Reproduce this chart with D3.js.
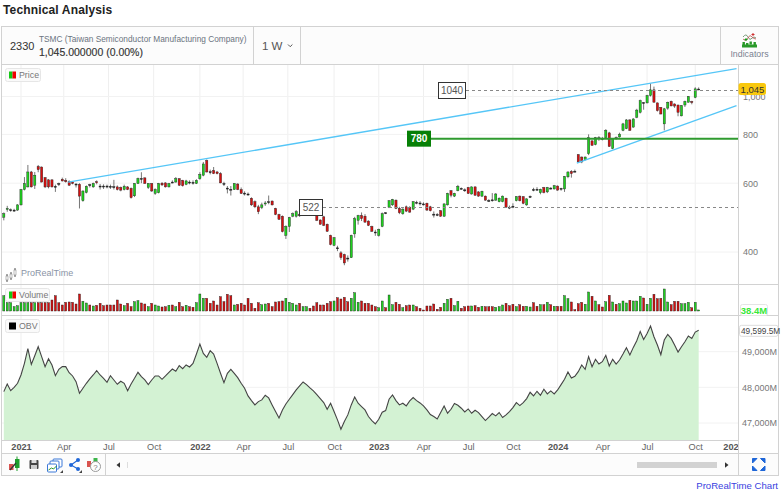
<!DOCTYPE html>
<html><head><meta charset="utf-8">
<script src="https://cdn.jsdelivr.net/npm/d3@7"></script>
<style>html,body{margin:0;padding:0;background:#fff}svg{display:block}text{font-family:"Liberation Sans",Arial,sans-serif}</style>
</head><body><div id="c"></div>
<script>
const opens=[491,514,512,512,512,528,578,587,641,593,662,660,620,612,612,589,599,614,610,606,604,597,596,541,568,595,587,605,590,590,
590,589,588,587,585,578,587,582,557,599,617,619,585,599,565,567,600,601,587,604,604,616,610,596,604,603,599,616,629,686,
642,647,641,635,599,583,579,578,597,578,566,563,549,538,522,
520,531,538,540,517,499,494,441,465,494,494,500,505,510,515,505,496,483,492,471,441,416,410,398,394,386,387,445,482,496,
494,480,465,450,441,465,504,521,528,543,517,501,522,520,515,536,534,531,533,522,500,499,510,494,528,574,556,574,582,577,
585,563,587,570,556,556,542,544,543,538,538,549,521,524,541,556,
554,528,553,578,579,567,585,570,583,580,590,582,580,623,643,644,710,700,690,714,770,753,784,781,785,807,736,784,788,819,
827,871,835,885,911,965,963,1006,1040,963,938,851,934,972,957,951,892,951,967,971,995,1045];
const closes=[501,517,513,512,528,578,599,641,587,629,650,604,587,587,587,587,598,608,605,593,599,596,556,573,589,594,599,602,588,589,
589,587,586,578,576,589,578,551,599,617,616,599,599,573,578,599,594,587,599,603,616,593,591,608,603,601,610,632,672,641,
641,635,635,601,598,581,578,599,578,565,564,562,528,522,507,
528,534,537,528,499,485,451,465,490,501,507,495,510,515,505,498,482,471,468,452,418,435,408,387,375,384,441,487,496,487,
477,468,452,448,457,501,503,541,545,517,504,515,509,506,538,535,532,530,512,510,499,498,494,531,565,559,565,589,581,575,
565,587,559,556,572,543,541,543,563,549,556,521,520,523,554,541,
533,547,555,577,578,579,568,585,582,591,576,580,624,641,635,643,680,680,700,784,750,784,783,780,819,745,780,782,801,851,
871,819,876,923,976,963,1006,1040,967,920,902,930,967,946,945,911,948,972,1000,965,1046,1045];
const highs=[505,525,517,516,530,580,622,668,645,641,668,662,622,614,613,595,602,620,618,610,606,600,600,575,592,598,602,610,597,596,
595,595,612,592,588,595,590,585,600,620,640,621,600,600,582,601,604,603,601,610,622,618,612,612,610,610,614,640,680,690,
650,660,645,640,605,590,590,600,600,585,572,568,552,542,528,
535,540,558,542,519,501,496,468,492,505,512,505,515,520,518,508,500,485,495,473,443,437,415,402,396,392,443,492,498,505,
500,482,467,456,459,505,506,543,547,545,522,518,526,524,540,541,540,536,535,525,508,503,512,533,567,576,567,594,585,582,
587,589,589,572,574,558,546,566,566,552,558,551,526,533,556,558,
556,549,558,584,586,581,587,587,586,594,592,584,626,643,648,650,712,702,702,800,772,788,792,788,825,812,782,790,808,856,
875,875,880,930,982,968,1010,1080,1060,965,940,935,970,976,960,953,950,976,1003,975,1056,1055];
const lows=[482,507,507,507,510,526,575,585,585,580,640,603,583,582,585,570,590,606,602,590,596,585,517,538,565,585,584,596,578,580,
582,580,578,575,572,575,576,548,553,597,600,598,580,570,560,565,590,585,585,600,602,590,588,593,596,595,597,612,625,639,
632,633,632,600,590,565,558,577,576,563,558,557,525,518,500,
515,525,530,526,497,483,449,432,450,491,490,492,500,505,503,496,480,470,466,450,416,414,402,382,370,378,386,435,470,480,
475,466,450,440,438,463,500,518,525,515,500,498,506,504,512,530,526,526,510,508,490,494,492,492,526,552,553,572,578,570,
563,561,557,554,553,541,537,538,541,536,536,519,515,518,539,539,
530,525,550,572,574,562,565,566,578,578,574,574,570,618,620,640,678,675,686,708,748,750,770,772,783,743,733,775,785,815,
825,817,832,880,905,925,960,1000,965,915,900,819,925,944,935,890,890,940,965,955,990,1040];
const volumes=[224,133,133,81,94,133,133,133,133,133,133,133,133,133,168,224,133,103,138,142,138,116,246,151,129,103,90,99,125,94,
103,103,103,168,116,94,125,81,146,159,129,116,81,125,103,90,77,81,99,103,81,138,81,99,81,73,133,246,190,190,
125,155,103,211,146,242,224,103,112,125,103,190,125,60,133,
107,116,125,81,142,146,155,190,138,125,103,125,81,81,60,90,133,103,103,125,146,155,198,181,203,146,190,263,138,155,125,
125,103,81,68,155,68,233,107,138,112,68,94,103,103,81,60,38,90,90,116,47,73,125,177,190,94,151,60,81,90,90,
94,73,86,81,81,81,73,81,103,125,94,112,81,107,
86,86,77,133,86,107,107,138,107,86,86,86,224,185,142,42,120,138,112,272,216,155,107,77,146,229,142,112,120,155,
129,164,155,155,216,194,112,190,242,185,190,311,142,107,151,151,120,120,138,68,138,38.4];
const obv=[47880,48095,47908,48002,48114,48347,48673,49084,48645,48888,49140,48860,48580,48804,48627,48328,48505,48580,48580,48412,
48319,48160,47834,47974,48114,48235,48347,48468,48347,48254,48142,48328,48207,48086,48170,48114,47908,48095,48254,48422,
48300,48207,48076,48207,48319,48319,48226,48319,48422,48515,48450,48608,48524,48627,48571,48673,48935,49215,48953,48841,
49028,48935,48673,48394,48132,48394,48505,48394,48272,48114,47974,47759,47628,47507,47600,47647,47778,47703,47507,47321,
47143,47367,47535,47666,47796,47927,48039,48151,48076,47983,47899,47796,47684,47573,47386,47554,47321,47087,46826,47041,
47227,47507,47731,47554,47461,47367,47181,47069,46975,47106,47302,47349,47666,47787,
47628,47507,47554,47479,47619,47712,47628,47563,47479,47367,47237,47181,47115,47293,47479,47274,47386,47545,47498,47414,
47311,47395,47274,47358,47293,47181,47069,47162,47265,47199,47293,47153,47227,47321,47433,47573,47489,47573,47684,47862,
47759,47890,47778,47946,47815,47899,47815,47927,48076,48226,48431,48263,48310,48440,48627,48505,48860,48580,48785,48655,48720,
48897,48599,48785,48655,48767,48935,49112,48907,49121,49308,49569,49345,49513,49718,49420,49187,48916,49327,49485,49373,
49187,48991,49140,49280,49439,49373,49550,49599.5];
const firstWeek="2020-11-30";
const xTickDates=["2021-01-04","2021-04-01","2021-07-01","2021-10-01","2022-01-03","2022-04-01","2022-07-01","2022-10-03","2023-01-02","2023-04-03","2023-07-03","2023-10-02","2024-01-01","2024-04-01","2024-07-01","2024-10-07","2024-12-23"];
const xTickLabels=["2021","Apr","Jul","Oct","2022","Apr","Jul","Oct","2023","Apr","Jul","Oct","2024","Apr","Jul","Oct","2025"];
const priceTicks=[400,600,800,1000];
const obvTicks=[47000,48000,49000];
const upperTrendDates=["2021-04-10","2024-12-30"], upperTrendPrices=[604,1179];
const lowerTrendDates=["2024-02-09","2024-12-30"], lowerTrendPrices=[675,948];
const levelPrices=[1040,780,522];
const lastPrice=1045;

const W=784,H=492;
const parse=d3.utcParse("%Y-%m-%d");
const start=parse(firstWeek);
const dates=opens.map((_,i)=>d3.utcDay.offset(start,7*i));
const L=2,R=738,PT=65,PB=284,VB=315,OB=440,AB=453,TB=475;
const x=d3.scaleUtc().domain([parse("2021-01-04"),parse("2025-01-06")]).range([21,21+209*3.44]);
const yP=d3.scaleLog().domain([400,1000]).range([252,96.5]);
const yV=d3.scaleLinear().domain([25,320]).range([311,288.3]);
const yO=d3.scaleLinear().domain([47000,49000]).range([423,351.7]);
const green="#1fd01f",red="#d61010";
const svg=d3.select("#c").append("svg").attr("width",W).attr("height",H);
const defs=svg.append("defs");
defs.append("clipPath").attr("id","pl").append("rect").attr("x",L).attr("y",PT).attr("width",R-L).attr("height",TB-PT);
defs.append("clipPath").attr("id","ax").append("rect").attr("x",L).attr("y",OB).attr("width",R-L).attr("height",AB-OB);

svg.append("text").attr("x",3).attr("y",14).attr("font-size",12).attr("font-weight",700).attr("fill","#222").attr("letter-spacing",".15").text("Technical Analysis");
svg.append("rect").attr("x",1.5).attr("y",26.5).attr("width",777).attr("height",38).attr("fill","#fcfcfc");
svg.append("rect").attr("x",1.5).attr("y",453.5).attr("width",777).attr("height",22).attr("fill","#fcfcfc");
const gridG=svg.append("g");
xTickDates.slice(0,-1).forEach(d=>gridG.append("line").attr("x1",x(parse(d))).attr("x2",x(parse(d))).attr("y1",PT).attr("y2",OB).attr("stroke","#efefef"));
priceTicks.forEach(p=>gridG.append("line").attr("x1",L).attr("x2",R).attr("y1",yP(p)).attr("y2",yP(p)).attr("stroke","#f2f2f2"));
obvTicks.forEach(p=>gridG.append("line").attr("x1",L).attr("x2",R).attr("y1",yO(p)).attr("y2",yO(p)).attr("stroke","#f2f2f2"));

const plot=svg.append("g").attr("clip-path","url(#pl)");
const idx=d3.range(opens.length);
plot.append("g").selectAll("line").data(idx).join("line")
 .attr("x1",i=>x(dates[i])).attr("x2",i=>x(dates[i])).attr("y1",i=>yP(highs[i])).attr("y2",i=>yP(lows[i]))
 .attr("stroke","#666").attr("stroke-width",.9);
plot.append("g").selectAll("rect").data(idx).join("rect")
 .attr("x",i=>x(dates[i])-1.1).attr("width",2.2)
 .attr("y",i=>Math.min(yP(opens[i]),yP(closes[i])))
 .attr("height",i=>Math.max(1,Math.abs(yP(opens[i])-yP(closes[i]))))
 .attr("fill",i=>Math.abs(opens[i]-closes[i])<3?"#222":closes[i]>=opens[i]?green:red)
 .attr("stroke","#222").attr("stroke-width",.4);
const trend=(ds,ps)=>plot.append("line").attr("x1",x(parse(ds[0]))).attr("x2",x(parse(ds[1]))).attr("y1",yP(ps[0])).attr("y2",yP(ps[1])).attr("stroke","#55c6f7").attr("stroke-width",1.3);
trend(upperTrendDates,upperTrendPrices);
trend(lowerTrendDates,lowerTrendPrices);
[[levelPrices[0],438,466],[levelPrices[2],299,323]].forEach(([p,a,b])=>{
 const y=Math.round(yP(p))+.5;
 plot.append("line").attr("x1",b).attr("x2",R).attr("y1",y).attr("y2",y).attr("stroke","#888").attr("stroke-width",1.2).attr("stroke-dasharray","3,3");
 svg.append("rect").attr("x",a+.5).attr("y",y-8).attr("width",b-a-1).attr("height",16).attr("fill","#fff").attr("stroke","#333");
 svg.append("text").attr("x",(a+b)/2).attr("y",y+3.7).attr("text-anchor","middle").attr("font-size",10).attr("fill","#555").text(p);
});
{const y=yP(levelPrices[1]);
 plot.append("line").attr("x1",430).attr("x2",R).attr("y1",y).attr("y2",y).attr("stroke","#2f9a2f").attr("stroke-width",2);
 svg.append("rect").attr("x",407).attr("y",y-8).attr("width",24).attr("height",16).attr("fill","#078007");
 svg.append("text").attr("x",419).attr("y",y+3.8).attr("text-anchor","middle").attr("font-size",10).attr("font-weight",700).attr("fill","#fff").text(levelPrices[1]);}
plot.append("g").selectAll("rect").data(idx).join("rect")
 .attr("x",i=>x(dates[i])-1).attr("width",2)
 .attr("y",i=>yV(volumes[i])).attr("height",i=>yV(25)-yV(volumes[i]))
 .attr("fill",i=>closes[i]>=opens[i]?green:red).attr("stroke","#1c1c1c").attr("stroke-width",.4);
const ptsO=idx.map(i=>[x(dates[i]),yO(obv[i])]);
plot.append("path").attr("d",d3.area().x(d=>d[0]).y0(OB).y1(d=>d[1])(ptsO)).attr("fill","#d3f2d3");
plot.append("path").attr("d",d3.line().x(d=>d[0]).y(d=>d[1])(ptsO)).attr("fill","none").attr("stroke","#444").attr("stroke-width",1.1);

const yAxisP=d3.axisRight(yP).tickValues(priceTicks).tickFormat(d3.format(",")).tickSize(0).tickPadding(5);
const gP=svg.append("g").attr("transform",`translate(${R},0)`).call(yAxisP);
const yAxisO=d3.axisRight(yO).tickValues(obvTicks).tickFormat(d=>d3.format(",")(d)+"M").tickSize(0).tickPadding(4);
const gO=svg.append("g").attr("transform",`translate(${R},0)`).call(yAxisO);
[gP,gO].forEach(g=>{g.select(".domain").remove();g.selectAll("text").attr("font-size",9).attr("fill","#777").attr("font-family",'"Liberation Sans",Arial,sans-serif');});
const xAxis=d3.axisBottom(x).tickValues(xTickDates.map(parse)).tickFormat((d,i)=>xTickLabels[i]).tickSize(0).tickPadding(3);
const gX=svg.append("g").attr("clip-path","url(#ax)").append("g").attr("transform",`translate(0,${OB})`).call(xAxis);
gX.select(".domain").remove();
gX.selectAll("text").attr("font-size",9.2).attr("fill",(d,i)=>i%4==0?"#555":"#666").attr("font-weight",(d,i)=>i%4==0?700:400).attr("font-family",'"Liberation Sans",Arial,sans-serif');

const bc="#d2d2d2";
const fr=(x1,y1,x2,y2,c=bc)=>svg.append("line").attr("x1",x1).attr("y1",y1).attr("x2",x2).attr("y2",y2).attr("stroke",c);
svg.append("rect").attr("x",1.5).attr("y",26.5).attr("width",777).attr("height",449).attr("fill","none").attr("stroke",bc);
[64.5,453.5].forEach(y=>fr(2,y,778,y));
[284.5,315.5,440.5].forEach(y=>fr(2,y,R+(y==440.5?0:40),y));
fr(R+.5,65,R+.5,475);fr(253.5,27,253.5,64);fr(300.5,27,300.5,64);fr(720.5,27,720.5,64);fr(105.5,454,105.5,475);

svg.append("text").attr("x",10).attr("y",50).attr("font-size",11).attr("fill","#333").text("2330");
svg.append("text").attr("x",39).attr("y",42).attr("font-size",8.3).attr("fill","#6b7480").text("TSMC (Taiwan Semiconductor Manufacturing Company)");
svg.append("text").attr("x",39).attr("y",56).attr("font-size",10.5).attr("fill","#333").attr("stroke","#333").attr("stroke-width",.15).text("1,045.000000 (0.00%)");
svg.append("text").attr("x",262).attr("y",49.5).attr("font-size",11.5).attr("fill","#555").text("1 W");
svg.append("path").attr("d","M288 44.5l2.2 2.2 2.2-2.2").attr("fill","none").attr("stroke","#555");
svg.append("text").attr("x",749.5).attr("y",57).attr("text-anchor","middle").attr("font-size",8.8).attr("fill","#7a8090").text("Indicators");
svg.append("rect").attr("x",742).attr("y",44.5).attr("width",15).attr("height",3).attr("fill","#2a9a2a");
[[743.5,42,3],[747,43,2],[750.5,41.5,3],[754.5,42,3]].forEach(([a,b,h])=>svg.append("rect").attr("x",a-1).attr("y",b).attr("width",2.4).attr("height",h).attr("fill","#2a9a2a"));
svg.append("path").attr("d","M743 37q3-4 5 0t4 1q2-2 4 0").attr("fill","none").attr("stroke","#7a9a7a");
svg.append("path").attr("d","M743 39q3 3 5-1t4-1q2 2 4 2").attr("fill","none").attr("stroke","#c05050").attr("stroke-width",.8);
svg.append("path").attr("d","M746 38v3M744.5 39.5h3").attr("stroke","#1a9a1a");
svg.append("path").attr("d","M753 33v3M751.5 34.5h3").attr("stroke","#d03030");

const legend=(x0,y0,w,label,two)=>{
 svg.append("rect").attr("x",x0+.5).attr("y",y0+.5).attr("width",w).attr("height",13).attr("rx",2).attr("fill","#fafafa").attr("stroke","#e6e6e6");
 if(two){svg.append("rect").attr("x",x0+4).attr("y",y0+3.5).attr("width",3.5).attr("height",7).attr("fill","#14c814");svg.append("rect").attr("x",x0+7.5).attr("y",y0+3.5).attr("width",3.5).attr("height",7).attr("fill","#f00000");}
 else svg.append("rect").attr("x",x0+4).attr("y",y0+3.5).attr("width",7).attr("height",7).attr("fill","#000");
 svg.append("text").attr("x",x0+14).attr("y",y0+10).attr("font-size",8.8).attr("fill","#777").text(label);
};
legend(5,68,35,"Price",true);legend(5,288,44,"Volume",true);legend(5,319,34,"OBV",false);

svg.append("text").attr("x",21).attr("y",276).attr("font-size",9).attr("fill","#8a94a6").text("ProRealTime");
[[7,276,5],[11,274,5],[15,270,6]].forEach(([a,b,h])=>{svg.append("line").attr("x1",a).attr("x2",a).attr("y1",b-2).attr("y2",b+h+1).attr("stroke","#555");svg.append("rect").attr("x",a-1).attr("y",b).attr("width",2).attr("height",h-1).attr("fill","#fff").attr("stroke","#555").attr("stroke-width",.4);});

const yl=yP(lastPrice);
svg.append("rect").attr("x",738.5).attr("y",yl-6).attr("width",27.5).attr("height",12).attr("rx",2.5).attr("fill","#f9c80e");
svg.append("text").attr("x",752.5).attr("y",yl+3.5).attr("text-anchor","middle").attr("font-size",9.5).attr("fill","#333").text("1,045");
svg.append("rect").attr("x",740.5).attr("y",304.5).attr("width",27).attr("height",11).attr("rx",2).attr("fill","#fff").attr("stroke","#e4e4e4");
svg.append("text").attr("x",754).attr("y",313.5).attr("text-anchor","middle").attr("font-size",9.5).attr("font-weight",700).attr("fill","#39e839").text("38.4M");
const yo=yO(obv[obv.length-1]);
svg.append("rect").attr("x",739.5).attr("y",yo-5).attr("width",38.5).attr("height",11).attr("rx",2).attr("fill","#fff").attr("stroke","#ddd");
svg.append("text").attr("x",741).attr("y",yo+3.8).attr("font-size",8.3).attr("fill","#444").text("49,599.5M");

svg.append("rect").attr("x",15).attr("y",459).attr("width",4.5).attr("height",9).attr("fill","#1f9e2c");
svg.append("line").attr("x1",17).attr("x2",17).attr("y1",456.5).attr("y2",471).attr("stroke","#1f9e2c");
svg.append("rect").attr("x",9).attr("y",464).attr("width",4.5).attr("height",6).attr("fill","#d9534f");
svg.append("path").attr("d","M10 470l6-7").attr("stroke","#333").attr("stroke-width",1.2);
svg.append("rect").attr("x",29.5).attr("y",460).attr("width",9).attr("height",9).attr("rx",1).attr("fill","#444");
svg.append("rect").attr("x",31.5).attr("y",460).attr("width",5).attr("height",3).attr("fill","#ddd");
svg.append("rect").attr("x",31).attr("y",465).attr("width",6).attr("height",4).attr("fill","#ccc");
[[53,459],[50,461],[47.5,464]].forEach(([a,b])=>svg.append("rect").attr("x",a).attr("y",b).attr("width",9).attr("height",8).attr("rx",1).attr("fill","#fff").attr("stroke","#3b78d8"));
svg.append("path").attr("d","M48.5 470l3-2 2 1 3-3").attr("fill","none").attr("stroke","#2a9a2a");
svg.append("path").attr("d","M60 473h3v-3z").attr("fill","#444");
svg.append("path").attr("d","M78 460L71 465L78 469").attr("fill","none").attr("stroke","#1e66d8").attr("stroke-width",1.1);
[[78,460],[71,465],[78,469]].forEach(([a,b])=>svg.append("circle").attr("cx",a).attr("cy",b).attr("r",2).attr("fill","#1e66d8"));
svg.append("path").attr("d","M79 473h3v-3z").attr("fill","#444");
svg.append("rect").attr("x",87).attr("y",461).attr("width",4).attr("height",6).attr("fill","#d9534f");
svg.append("rect").attr("x",93.5).attr("y",458).attr("width",4).attr("height",5).attr("fill","#3cb54a");
svg.append("circle").attr("cx",95.5).attr("cy",466.5).attr("r",5).attr("fill","#fff").attr("stroke","#999");
svg.append("text").attr("x",95.5).attr("y",469.5).attr("text-anchor","middle").attr("font-size",8).attr("fill","#777").text("?");
svg.append("path").attr("d","M116.5 465l3.5-2.8v5.6z").attr("fill","#333");
svg.append("line").attr("x1",127.5).attr("x2",127.5).attr("y1",462).attr("y2",468).attr("stroke","#ddd");
svg.append("rect").attr("x",637).attr("y",462).attr("width",80).attr("height",6).attr("fill","#d2d2d2");
svg.append("path").attr("d","M728.5 465l-3.5-2.8v5.6z").attr("fill","#333");
svg.append("path").attr("d","M752.5 463v-4.5h4.5l-4.5 4.5M765 463v-4.5h-4.5l4.5 4.5M752.5 466v4.5h4.5l-4.5-4.5M765 466v4.5h-4.5l4.5-4.5").attr("fill","#1e66d8").attr("stroke","#1e66d8");
svg.append("text").attr("x",778).attr("y",489).attr("text-anchor","end").attr("font-size",9.6).attr("fill","#3a3fe0").text("ProRealTime Chart");
</script></body></html>
